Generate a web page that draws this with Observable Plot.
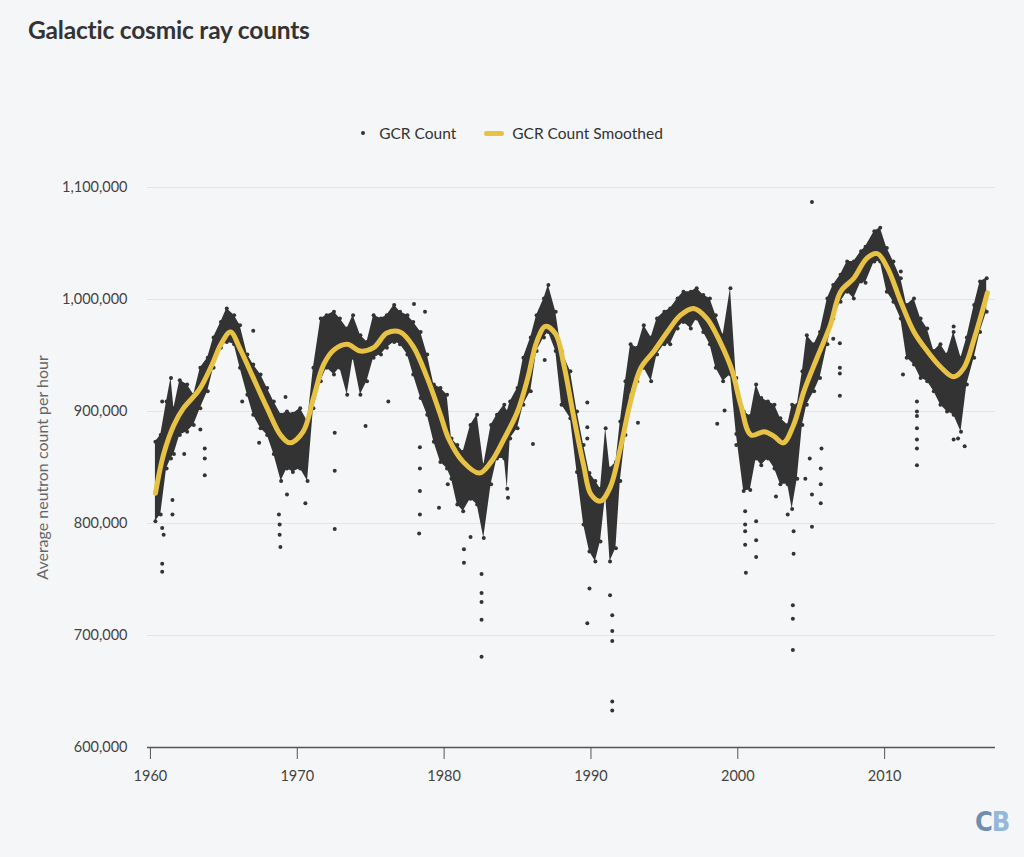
<!DOCTYPE html>
<html>
<head>
<meta charset="utf-8">
<script src="https://cdn.jsdelivr.net/npm/d3@7"></script>
<script src="https://cdn.jsdelivr.net/npm/@observablehq/plot@0.6"></script>
<style>
  body { margin: 0; background: #f5f6f8; font-family: Lato, "Noto Sans", sans-serif; color: #333; }
  #page { position: relative; width: 1024px; height: 857px; }
  #header { height: 160px; position: relative; }
  #title { position: absolute; left: 28px; top: 15px; font-size: 24.5px; font-weight: 700; color: #333; letter-spacing: -0.2px; }
  #legend { position: absolute; left: 0; right: 0; top: 124px; display: flex; justify-content: center; align-items: center; font-size: 15.5px; color: #333; }
  .sw-dot { width: 4px; height: 4px; border-radius: 2px; background: #333; margin-right: 14px; }
  .sw-line { width: 20px; height: 5px; border-radius: 3px; background: #e8c244; margin-left: 28px; margin-right: 8px; }
  #logo { position: absolute; left: 975px; top: 806px; font-family: "Liberation Sans Narrow", "DejaVu Sans Condensed", sans-serif; font-weight: 700; font-size: 27px; letter-spacing: -1px; }
</style>
</head>
<body>
<div id="page">
  <div id="header">
    <div id="title">Galactic cosmic ray counts</div>
    <div id="legend">
      <span class="sw-dot"></span><span>GCR Count</span>
      <span class="sw-line"></span><span>GCR Count Smoothed</span>
    </div>
  </div>
  <div id="chart"></div>
  <div id="logo"><span style="color:#6f8db0">C</span><span style="color:#93b8dc">B</span></div>
</div>
<script>
// dense part of the daily counts: lower and upper edge of the cloud
const bandYears = [1960.34, 1960.7, 1961.1, 1961.4, 1961.6, 1962.0, 1962.5, 1962.95, 1963.4, 1963.9,
  1964.3, 1964.8, 1965.2, 1965.7, 1966.1, 1966.6, 1967.0, 1967.5, 1967.95, 1968.4,
  1968.9, 1969.3, 1969.7, 1970.2, 1970.7, 1971.1, 1971.6, 1972.0, 1972.5, 1972.9,
  1973.4, 1973.8, 1974.3, 1974.75, 1975.2, 1975.7, 1976.1, 1976.6, 1977.0, 1977.5,
  1977.9, 1978.4, 1978.85, 1979.3, 1979.75, 1980.2, 1980.5, 1980.9, 1981.3, 1981.8,
  1982.25, 1982.7, 1983.2, 1983.6, 1984.1, 1984.3, 1984.5, 1985.0, 1985.4, 1985.9,
  1986.3, 1986.8, 1987.1, 1987.6, 1988.0, 1988.6, 1989.05, 1989.5, 1989.9, 1990.3,
  1990.65, 1991.0, 1991.3, 1991.7, 1992.0, 1992.35, 1992.7, 1993.15, 1993.6, 1994.1,
  1994.5, 1995.0, 1995.4, 1995.9, 1996.3, 1996.8, 1997.2, 1997.65, 1998.1, 1998.5,
  1999.0, 1999.5, 1999.9, 2000.4, 2000.85, 2001.25, 2001.6, 2002.05, 2002.5, 2002.9,
  2003.4, 2003.7, 2004.05, 2004.4, 2004.7, 2005.2, 2005.6, 2006.1, 2006.5, 2007.0,
  2007.45, 2007.9, 2008.4, 2008.7, 2009.3, 2009.7, 2010.15, 2010.6, 2011.1, 2011.5,
  2012.0, 2012.45, 2012.9, 2013.35, 2013.8, 2014.25, 2014.7, 2015.2, 2015.6, 2016.1,
  2016.5, 2016.95];
const bandLow = [802000, 808000, 849000, 858000, 862000, 879000, 882000, 888000, 903000, 918000,
  939000, 957000, 962000, 960000, 939000, 915000, 897000, 885000, 879000, 862000,
  838000, 849000, 846000, 849000, 838000, 903000, 927000, 939000, 933000, 939000,
  915000, 948000, 915000, 927000, 948000, 951000, 957000, 962000, 960000, 951000,
  933000, 912000, 897000, 873000, 855000, 849000, 840000, 817000, 811000, 822000,
  817000, 787000, 835000, 858000, 858000, 831000, 876000, 885000, 906000, 918000,
  954000, 966000, 971000, 954000, 906000, 894000, 846000, 799000, 775000, 766000,
  784000, 826000, 766000, 778000, 838000, 879000, 918000, 927000, 939000, 927000,
  951000, 960000, 960000, 974000, 980000, 974000, 983000, 971000, 960000, 939000,
  927000, 933000, 880000, 829000, 830000, 858000, 852000, 858000, 849000, 835000,
  835000, 813000, 840000, 888000, 906000, 918000, 930000, 960000, 983000, 998000,
  1007000, 1001000, 1016000, 1015000, 1034000, 1034000, 1007000, 998000, 983000, 948000,
  942000, 930000, 927000, 918000, 906000, 900000, 897000, 882000, 924000, 948000,
  971000, 989000];
const bandHigh = [873000, 879000, 909000, 930000, 903000, 928000, 924000, 915000, 939000, 948000,
  966000, 980000, 992000, 986000, 977000, 951000, 942000, 933000, 921000, 909000,
  897000, 900000, 898000, 903000, 891000, 939000, 983000, 986000, 989000, 983000,
  974000, 986000, 968000, 962000, 986000, 983000, 986000, 995000, 989000, 986000,
  980000, 971000, 951000, 924000, 921000, 915000, 876000, 870000, 864000, 888000,
  897000, 852000, 888000, 897000, 906000, 900000, 909000, 921000, 948000, 966000,
  986000, 1001000, 1013000, 989000, 954000, 936000, 900000, 870000, 845000, 838000,
  831000, 885000, 849000, 855000, 891000, 927000, 960000, 957000, 977000, 966000,
  983000, 989000, 992000, 1001000, 1007000, 1007000, 1010000, 1004000, 1001000, 986000,
  968000, 1010000, 930000, 900000, 896000, 924000, 912000, 909000, 906000, 894000,
  888000, 906000, 906000, 936000, 968000, 960000, 971000, 1001000, 1013000, 1022000,
  1034000, 1034000, 1043000, 1047000, 1061000, 1064000, 1046000, 1034000, 1019000, 995000,
  1001000, 983000, 974000, 954000, 960000, 951000, 971000, 948000, 966000, 995000,
  1016000, 1019000];

// scattered single days away from the cloud
const outlierYears = [1960.8, 1960.8, 1960.9, 1960.8, 1960.8, 1961.5, 1961.5, 1962.3, 1963.4, 1963.7,
  1963.7, 1963.7, 1967.0, 1966.25, 1967.4, 1969.2, 1968.75, 1968.8, 1968.8, 1968.85,
  1969.3, 1970.55, 1972.55, 1972.55, 1972.55, 1974.65, 1976.2, 1977.95, 1978.7, 1978.35,
  1978.35, 1978.35, 1978.35, 1978.3, 1979.65, 1980.25, 1981.35, 1981.35, 1981.8, 1982.55,
  1982.55, 1982.55, 1982.55, 1982.55, 1984.35, 1986.05, 1986.85, 1989.75, 1989.75, 1989.75,
  1989.9, 1989.75, 1991.45, 1991.45, 1991.45, 1991.3, 1991.45, 1991.45, 1993.2, 1998.6,
  1999.1, 1999.9, 2000.5, 2000.5, 2000.5, 2000.5, 2000.55, 2001.25, 2001.25, 2001.25,
  2002.6, 2003.4, 2003.8, 2003.8, 2003.75, 2003.75, 2003.75, 2005.05, 2005.05, 2005.05,
  2004.6, 2005.65, 2005.65, 2005.65, 2005.7, 2004.9, 2006.95, 2006.95, 2006.95, 2006.95,
  2006.5, 2011.1, 2012.2, 2012.2, 2012.2, 2012.2, 2012.2, 2012.2, 2012.2, 2014.7,
  2014.7, 2015.0, 2015.45, 2011.25];
const outlierCounts = [909000, 796000, 790000, 764000, 757000, 821000, 808000, 862000, 884000, 867000,
  858000, 843000, 972000, 909000, 872000, 913000, 808000, 799000, 790000, 779000,
  826000, 818000, 847000, 795000, 881000, 887000, 909000, 996000, 989000, 868000,
  849000, 829000, 808000, 791000, 814000, 835000, 777000, 765000, 788000, 755000,
  738000, 730000, 714000, 681000, 823000, 871000, 946000, 908000, 886000, 876000,
  742000, 711000, 695000, 641000, 633000, 736000, 718000, 704000, 890000, 889000,
  901000, 870000, 811000, 799000, 793000, 781000, 756000, 802000, 785000, 770000,
  824000, 808000, 793000, 773000, 727000, 715000, 687000, 1087000, 797000, 826000,
  840000, 849000, 835000, 818000, 867000, 858000, 961000, 939000, 934000, 914000,
  965000, 1025000, 909000, 900000, 896000, 885000, 875000, 867000, 852000, 976000,
  875000, 876000, 869000, 933000];

// smoothed series
const smoothYears = [1960.34, 1960.9, 1961.6, 1962.25, 1963.3, 1964.2, 1964.8, 1965.45, 1966.1, 1966.8,
  1967.95, 1968.86, 1969.5, 1970.4, 1971.1, 1971.8, 1972.5, 1973.4, 1974.3, 1975.2,
  1976.1, 1977.0, 1977.9, 1978.85, 1979.75, 1980.3, 1981.3, 1982.4, 1983.2, 1984.1,
  1985.0, 1985.7, 1986.3, 1986.9, 1987.6, 1988.15, 1988.8, 1989.5, 1990.0, 1990.65,
  1991.3, 1992.0, 1992.7, 1993.4, 1994.3, 1995.2, 1996.1, 1997.0, 1997.9, 1998.8,
  1999.6, 2000.2, 2000.9, 2001.8, 2002.45, 2003.1, 2003.8, 2004.5, 2005.4, 2006.3,
  2007.0, 2007.9, 2008.8, 2009.5, 2010.2, 2011.1, 2012.0, 2012.9, 2013.8, 2014.7,
  2015.4, 2016.1, 2017.0];
const smoothCounts = [827000, 862000, 888000, 903000, 919000, 942000, 960000, 971000, 956000, 936000,
  903000, 879000, 872000, 882000, 912000, 942000, 955000, 960000, 954000, 957000,
  970000, 971000, 958000, 930000, 897000, 876000, 855000, 845000, 855000, 876000,
  900000, 930000, 962000, 976000, 969000, 942000, 897000, 852000, 826000, 820000,
  832000, 867000, 909000, 939000, 954000, 971000, 986000, 992000, 983000, 962000,
  937000, 906000, 879000, 882000, 878000, 872000, 888000, 918000, 948000, 977000,
  1007000, 1019000, 1037000, 1041000, 1028000, 998000, 971000, 954000, 940000, 931000,
  939000, 965000, 1006000];

const xTicks = [1960, 1970, 1980, 1990, 2000, 2010];
const yTicks = [600000, 700000, 800000, 900000, 1000000, 1100000];

const band = bandYears.map((year, i) => ({year, low: bandLow[i], high: bandHigh[i]}));
const outliers = outlierYears.map((year, i) => ({year, count: outlierCounts[i]}));
const smooth = smoothYears.map((year, i) => ({year, count: smoothCounts[i]}));

const ink = '#333';

let chart = Plot.plot({
  width: 1024,
  height: 697,
  marginTop: 27,
  marginBottom: 110,
  marginLeft: 147,
  marginRight: 29,
  style: {
    fontFamily: 'Lato, "Noto Sans", sans-serif',
    fontSize: '14.5px',
    color: '#444',
    background: 'transparent',
    overflow: 'visible'
  },
  x: { domain: [1959.8, 2017.55] },
  y: { domain: [600000, 1100000] },
  marks: [
    Plot.gridY(yTicks.slice(1), { stroke: '#e3e4e7', strokeOpacity: 1, strokeWidth: 1 }),

    Plot.areaY(band, { x: 'year', y1: 'low', y2: 'high', fill: ink, curve: 'linear' }),
    Plot.dot(band, { x: 'year', y: 'low', r: 2, fill: ink }),
    Plot.dot(band, { x: 'year', y: 'high', r: 2, fill: ink }),
    Plot.dot(outliers, { x: 'year', y: 'count', r: 2, fill: ink }),

    Plot.line(smooth, {
      x: 'year',
      y: 'count',
      stroke: '#e8c244',
      strokeWidth: 5,
      strokeLinecap: 'round',
      curve: 'catmull-rom'
    }),

    Plot.ruleY([600000], { stroke: '#555', strokeWidth: 1.5 }),
    Plot.axisX({ ticks: xTicks, tickSize: 12, tickPadding: 11, tickFormat: d => String(d), stroke: '#555', label: null }),
    Plot.axisY({ ticks: yTicks, tickSize: 0, tickPadding: 20, tickFormat: d3.format(','), label: null }),
    Plot.text(['Average neutron count per hour'], {
      frameAnchor: 'left',
      textAnchor: 'middle',
      rotate: -90,
      dx: -105,
      fill: '#666',
      fontSize: 16
    })
  ]
})

d3.select('#chart').append(() => chart)
</script>
</body>
</html>
